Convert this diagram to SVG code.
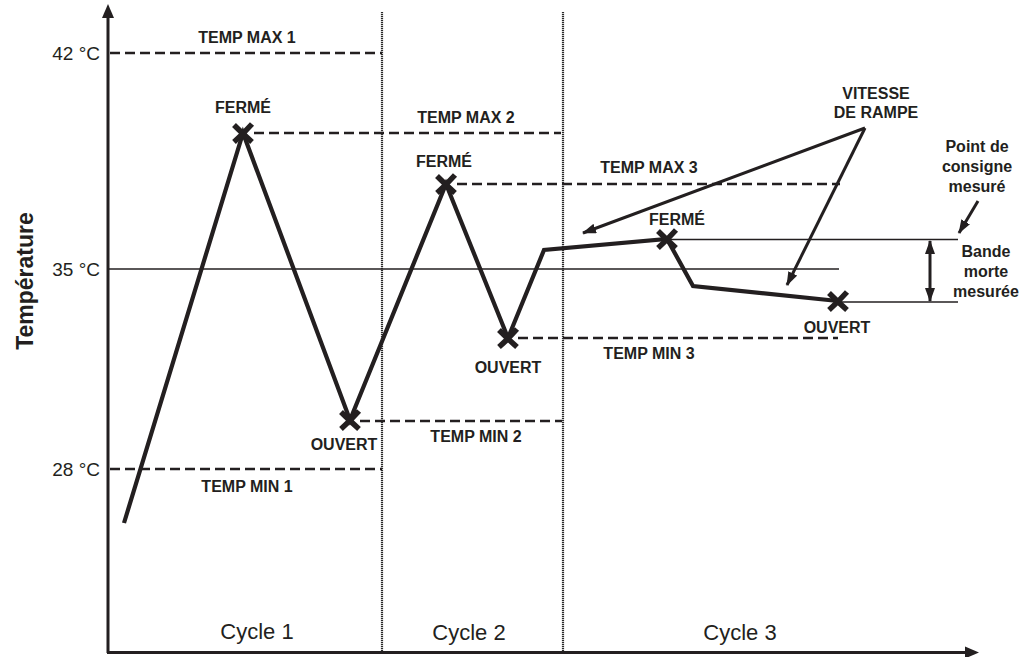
<svg xmlns="http://www.w3.org/2000/svg" xmlns:xlink="http://www.w3.org/1999/xlink" width="1025" height="657" viewBox="0 0 1025 657">
<style>
.lb{font-family:"Liberation Sans",Arial,sans-serif;font-weight:bold;font-size:16px;fill:#231f20;text-anchor:middle}
.tk{font-family:"Liberation Sans",Arial,sans-serif;font-size:19px;fill:#231f20;text-anchor:end}
.cy{font-family:"Liberation Sans",Arial,sans-serif;font-size:22px;fill:#231f20;text-anchor:middle}
.ax{fill:none;stroke:#231f20;stroke-width:3}
.ds{fill:none;stroke:#231f20;stroke-width:2.5;stroke-dasharray:10 5}
.th{fill:none;stroke:#231f20;stroke-width:1.6}
.dv{fill:none;stroke:#2a2a2a;stroke-width:2.2;stroke-dasharray:1.2 0.8}
.cv{fill:none;stroke:#231f20;stroke-width:4.2;stroke-linejoin:miter}
.ar{fill:none;stroke:#231f20;stroke-width:3}
.xm{fill:none;stroke:#231f20;stroke-width:5.5}
</style>
<defs>
<marker id="ah" viewBox="0 0 14 10" refX="13" refY="5" markerWidth="14" markerHeight="10" markerUnits="userSpaceOnUse" orient="auto-start-reverse"><path d="M0,0 L14,5 L0,10 z" fill="#231f20"/></marker>
<g id="xm"><path class="xm" d="M-9,-8 Q-2,-1 9,9 M9,-9 Q1,0 -9,9"/></g>
</defs>
<rect width="1025" height="657" fill="#fff"/>

<g id="axes">
<line class="ax" x1="108" y1="653" x2="108" y2="16"/>
<path d="M108,4 L102,18 L114,18 z" fill="#231f20"/>
<line class="ax" x1="107" y1="652.5" x2="966" y2="652.5"/>
<path d="M979,652.5 L965,646.5 L965,658.5 z" fill="#231f20"/>
</g>

<g id="dividers">
<line class="dv" x1="382" y1="12" x2="382" y2="652"/>
<line class="dv" x1="563" y1="12" x2="563" y2="652"/>
</g>

<g id="levels">
<line class="ds" x1="110" y1="53" x2="382" y2="53"/>
<line class="ds" x1="254" y1="133" x2="561" y2="133"/>
<line class="ds" x1="457" y1="184" x2="840" y2="184"/>
<line class="th" x1="108" y1="269" x2="839" y2="269"/>
<line class="ds" x1="518" y1="338" x2="838" y2="338"/>
<line class="ds" x1="360" y1="421" x2="562" y2="421"/>
<line class="ds" x1="110" y1="469" x2="382" y2="469"/>
<line class="th" x1="668" y1="239.5" x2="958" y2="239.5"/>
<line class="th" x1="838" y1="302" x2="958" y2="302"/>
</g>

<g id="curve">
<polyline class="cv" points="124,523 243,133 350,420 446,184 508,338 544,250 667,239 693,286 838,301"/>
<use xlink:href="#xm" x="243" y="133"/>
<use xlink:href="#xm" x="350" y="420"/>
<use xlink:href="#xm" x="446" y="184"/>
<use xlink:href="#xm" x="508" y="338"/>
<use xlink:href="#xm" x="667" y="239"/>
<use xlink:href="#xm" x="838" y="301"/>
</g>

<g id="connectors">
<line class="ar" x1="865" y1="128" x2="583" y2="233" marker-end="url(#ah)"/>
<line class="ar" x1="865" y1="128" x2="787" y2="285" marker-end="url(#ah)"/>
<line class="ar" x1="978" y1="201" x2="959" y2="233" marker-end="url(#ah)"/>
<line class="ar" x1="930" y1="241" x2="930" y2="301" marker-start="url(#ah)" marker-end="url(#ah)"/>
</g>

<g id="ylabel"><text class="lb" style="font-size:23px" transform="translate(33,281) rotate(-90)">Température</text></g>
<g id="ticks">
<text class="tk" x="100" y="60">42 °C</text>
<text class="tk" x="100" y="276">35 °C</text>
<text class="tk" x="100" y="476">28 °C</text>
</g>

<g id="n-tempmax1"><text class="lb" x="247" y="43">TEMP MAX 1</text></g>
<g id="n-ferme1"><text class="lb" x="243" y="113">FERMÉ</text></g>
<g id="n-ouvert1"><text class="lb" x="344" y="450">OUVERT</text></g>
<g id="n-tempmin1"><text class="lb" x="247" y="492">TEMP MIN 1</text></g>
<g id="n-tempmax2"><text class="lb" x="466" y="123">TEMP MAX 2</text></g>
<g id="n-ferme2"><text class="lb" x="444" y="167">FERMÉ</text></g>
<g id="n-ouvert2"><text class="lb" x="508" y="373">OUVERT</text></g>
<g id="n-tempmin2"><text class="lb" x="476" y="442">TEMP MIN 2</text></g>
<g id="n-tempmax3"><text class="lb" x="649" y="173">TEMP MAX 3</text></g>
<g id="n-ferme3"><text class="lb" x="677" y="225">FERMÉ</text></g>
<g id="n-ouvert3"><text class="lb" x="837" y="333">OUVERT</text></g>
<g id="n-tempmin3"><text class="lb" x="649" y="359">TEMP MIN 3</text></g>
<g id="n-vitesse"><text class="lb" x="876" y="99">VITESSE</text><text class="lb" x="876" y="118">DE RAMPE</text></g>
<g id="n-point"><text class="lb" x="977" y="152">Point de</text><text class="lb" x="977" y="172">consigne</text><text class="lb" x="977" y="192">mesuré</text></g>
<g id="n-bande"><text class="lb" x="986" y="257">Bande</text><text class="lb" x="986" y="277">morte</text><text class="lb" x="986" y="297">mesurée</text></g>

<g id="cycles">
<text class="cy" x="257" y="639">Cycle 1</text>
<text class="cy" x="469" y="640">Cycle 2</text>
<text class="cy" x="740" y="640">Cycle 3</text>
</g>
</svg>
